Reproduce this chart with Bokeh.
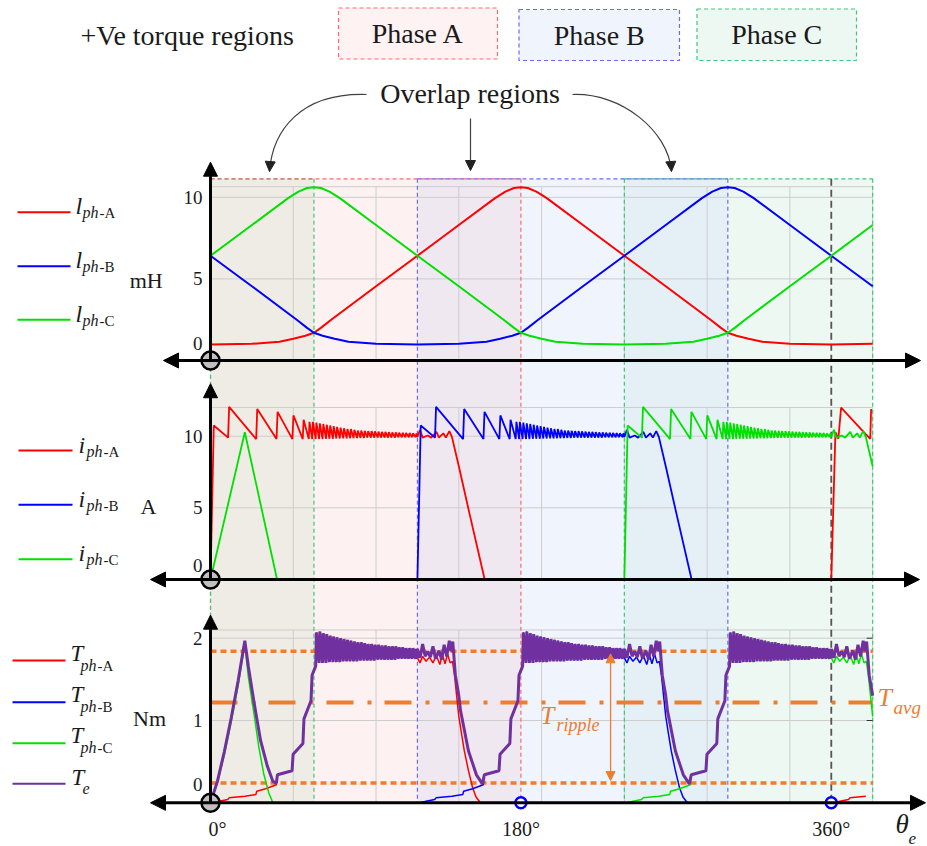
import numpy as np
from bokeh.plotting import figure
from bokeh.models import Range1d, Arrow, NormalHead
from bokeh.core.properties import value
from bokeh.embed import file_html
from bokeh.resources import INLINE

# =========================== DATA ===========================
theta_start = 0.0
theta_end = 384.0
theta_ticks = [0, 180, 360]
theta_tick_labels = ["0°", "180°", "360°"]
theta_grid = [48, 96, 144, 192, 240, 288, 336, 384]
marker_theta = [180, 360]

l_ticks = [0, 5, 10]
l_tick_labels = ["0", "5", "10"]
i_ticks = [0, 5, 10]
i_tick_labels = ["0", "5", "10"]
t_ticks = [0, 1, 2]
t_tick_labels = ["0", "1", "2"]
l_top, i_top, t_top = 10.65, 12.0, 2.1

# shaded +Ve torque regions (deg)
shade_edges = [0, 60, 120, 180, 240, 300, 360, 384]
shade_colors = ["#efece6", "#fdf1f1", "#efe8f0", "#f0f4fc", "#e5f0f6", "#eef8f2", "#eef8f2"]
region_A = [(0, 180)]
region_B = [(120, 300)]
region_C = [(0, 60), (240, 384)]
period_theta = 360

# phase inductance, phase A, one electrical period (deg, mH)
l_prof_deg = [0, 24, 40, 48, 55, 60, 64, 70, 96, 120, 144, 165, 171, 176, 180,
              184, 189, 195, 216, 240, 264, 290, 296, 300, 305, 312, 320, 336, 360]
l_prof_mh = [0.98, 1.02, 1.15, 1.33, 1.52, 1.70, 2.0, 2.5, 4.55, 6.42, 8.3, 9.95, 10.35, 10.57, 10.62,
             10.57, 10.35, 9.95, 8.3, 6.42, 4.55, 2.5, 2.0, 1.70, 1.52, 1.33, 1.15, 1.02, 0.98]
phase_shift = {"A": 0, "B": 120, "C": -120}

# phase current during one conduction interval (deg from turn-on, A)
i_head_deg = [0, 1.9, 10.2, 10.8, 26.5, 27.1, 38.3, 38.9, 47.5, 48.1, 53.5, 54.0]
i_head_amp = [0, 10.75, 9.9, 12.05, 9.8, 11.9, 9.8, 11.7, 9.8, 11.45, 9.8, 11.15]
rip_valley_deg = [57, 59, 61, 63, 65, 67, 69, 71, 73, 75, 77, 79, 81, 83, 85, 87,
                  89, 91, 93, 95, 97, 99, 101, 103, 105, 107, 109, 111, 113, 115, 117, 119]
rip_peak_deg = [57.4, 59.4, 61.4, 63.4, 65.4, 67.4, 69.4, 71.4, 73.4, 75.4, 77.4, 79.4, 81.4, 83.4, 85.4, 87.4,
                89.4, 91.4, 93.4, 95.4, 97.4, 99.4, 101.4, 103.4, 105.4, 107.4, 109.4, 111.4, 113.4, 115.4, 117.4, 119.4]
i_valley_amp = [9.8, 9.8, 9.8, 9.8, 9.8, 9.82, 9.82, 9.82, 9.84, 9.84, 9.85, 9.85, 9.86, 9.86, 9.87, 9.88,
                9.88, 9.89, 9.9, 9.9, 9.9, 9.9, 9.9, 9.9, 9.9, 9.9, 9.92, 9.92, 9.92, 9.92, 9.93, 9.93]
i_peak_amp = [11.0, 11.0, 10.95, 10.9, 10.85, 10.8, 10.75, 10.7, 10.65, 10.6, 10.55, 10.5, 10.5, 10.45, 10.4, 10.4,
              10.38, 10.36, 10.35, 10.33, 10.32, 10.3, 10.3, 10.28, 10.27, 10.26, 10.25, 10.24, 10.23, 10.22, 10.2, 10.2]
i_tail_deg = [120.0, 121.5, 123.0, 126.0, 128.0, 131.0, 132.5, 135.0, 136.5, 138.5, 140.0, 144.0, 150.0, 159.0]
i_tail_amp = [9.95, 10.45, 9.9, 10.05, 9.9, 10.3, 9.9, 10.2, 9.9, 10.35, 9.95, 7.9, 4.7, 0.0]
# start-up pieces
ic_start_deg = [0, 19.9, 38.6]
ic_start_amp = [0, 10.28, 0]
ia_next_deg = [360, 362.4, 364.1, 365.7, 379.8, 382.6, 383.1]
ia_next_amp = [0, 10.28, 9.82, 12.0, 10.17, 9.82, 11.9]

# phase torque during one conduction interval (deg from turn-on, Nm)
tau_head_deg = [0, 2, 5, 10, 10.8, 20, 26.3, 26.8, 32, 38.2, 38.8, 47.3, 47.9, 53.6, 54.2, 58.3, 58.9, 60.6]
tau_head_nm = [0, 0, 0.02, 0.04, 0.06, 0.08, 0.1, 0.14, 0.17, 0.22, 0.34, 0.39, 0.59, 0.72, 1.02, 1.24, 1.55, 1.64]
tau_valley_nm = [1.66, 1.70, 1.70, 1.70, 1.71, 1.71, 1.71, 1.71, 1.72, 1.72, 1.72, 1.72, 1.72, 1.73, 1.73,
                 1.73, 1.73, 1.73, 1.74, 1.74, 1.74, 1.74, 1.74, 1.74, 1.75, 1.75, 1.75, 1.75, 1.75, 1.75]
tau_peak_nm = [2.07, 2.08, 2.06, 2.05, 2.03, 2.02, 2.01, 2.0, 1.99, 1.98, 1.97, 1.96, 1.95, 1.95, 1.94,
               1.93, 1.93, 1.92, 1.92, 1.91, 1.91, 1.9, 1.9, 1.9, 1.89, 1.89, 1.88, 1.88, 1.88, 1.87]
tau_tail_deg = [120.0, 121.5, 123.0, 125.0, 127.0, 129.0, 131.0, 133.0, 134.5, 136.0, 137.5, 139.0, 140.3,
                141.5, 143.0, 144.0, 145.5, 147.2, 149.5, 151.9, 154.0, 156.5]
tau_tail_nm = [1.76, 1.70, 1.78, 1.72, 1.77, 1.70, 1.79, 1.68, 1.80, 1.69, 1.81, 1.70, 1.72,
               1.55, 1.25, 1.05, 0.85, 0.63, 0.40, 0.19, 0.07, 0.0]
# total torque while the outgoing phase decays (deg from incoming turn-on, Nm)
te_ov_deg = [0, 1.5, 3, 4.5, 6, 7.5, 9, 10.5, 12.5, 14, 15.5, 17, 18.5, 19.5, 20.5, 22, 24, 25, 29.6, 34.2, 37.7]
te_ov_nm = [1.87, 1.76, 1.93, 1.78, 1.84, 1.77, 1.9, 1.75, 1.85, 1.74, 1.92, 1.78, 1.97, 1.84, 1.96,
            1.55, 1.3, 1.12, 0.63, 0.34, 0.23]
te_join_deg = 38.8
# start-up torque
te_start_deg = [0, 4, 8, 12, 16, 19.9, 22, 25.1, 29, 32.9, 36.2, 38.2]
te_start_nm = [0, 0.26, 0.62, 1.03, 1.48, 1.97, 1.65, 1.24, 0.76, 0.45, 0.26, 0.24]
tc_start_deg = [0, 4, 8, 12, 16, 19.9, 22, 25.1, 28, 30.9, 33.8, 36.2]
tc_start_nm = [0, 0.24, 0.58, 0.98, 1.42, 1.93, 1.52, 1.1, 0.68, 0.35, 0.12, 0]
phase_on = {"A": 0, "B": 120, "C": 240}

ripple_max = 1.84
ripple_min = 0.24
t_avg = 1.22
ripple_arrow_theta = 232

# =========================== STYLE / LAYOUT ===========================
W, H = 927, 846
X0, PPD = 210.0, 1.7244           # pixel of 0 deg, pixels per degree
PANEL = {"L": (360.0, 16.32), "I": (579.0, 14.33), "T": (802.3, 82.3)}
REGION_TOP_PX = 178.3
SERIF = value("Liberation Serif")
RED, BLUE, GREEN, PURPLE, ORANGE = "#ff0000", "#0000ff", "#00e000", "#7030a0", "#ed7d31"
REG_A, REG_B, REG_C = "#ff6a6a", "#6a6aff", "#3cc878"
GRID = "#cdcdcd"


def dx(px):
    return (px - X0) / PPD


p = figure(width=W, height=H, x_range=Range1d(dx(0), dx(W)), y_range=Range1d(H, 0),
           x_axis_type=None, y_axis_type=None, toolbar_location=None, output_backend="svg",
           min_border=0, outline_line_color=None, background_fill_color="white",
           border_fill_color="white")
p.title.visible = False
p.extra_y_ranges = {k: Range1d((y0 - H) / ppu, y0 / ppu) for k, (y0, ppu) in PANEL.items()}

T0_PX = PANEL["T"][0]

# ---- shaded regions
p.quad(left=shade_edges[:-1], right=shade_edges[1:], top=REGION_TOP_PX, bottom=T0_PX,
       fill_color=shade_colors, line_color=None)

# ---- grid lines per panel
for name, top, ticks in (("L", l_top, l_ticks), ("I", i_top, i_ticks), ("T", t_top, t_ticks)):
    p.segment(x0=theta_grid, y0=0, x1=theta_grid, y1=top, y_range_name=name,
              line_color=GRID, line_width=1)
    hy = list(ticks[1:]) + [top]
    p.segment(x0=theta_start, y0=hy, x1=theta_end, y1=hy, y_range_name=name,
              line_color=GRID, line_width=1)

# ---- region dashed borders
def region_sides(regs, color):
    for a, b in regs:
        p.segment(x0=[a, b], y0=REGION_TOP_PX, x1=[a, b], y1=T0_PX, line_color=color,
                  line_width=1.2, line_dash="4 3")


def region_tops(regs, color):
    for a, b in regs:
        p.segment(x0=a, y0=REGION_TOP_PX, x1=b, y1=REGION_TOP_PX, line_color=color,
                  line_width=1.2, line_dash="4 3")


region_sides(region_A, REG_A)
region_sides(region_C, REG_C)
region_sides(region_B, REG_B)
region_tops(region_C[:1], REG_C)
region_tops(region_A, REG_A)
region_tops(region_C[1:], REG_C)
region_tops(region_B, REG_B)
p.segment(x0=period_theta, y0=REGION_TOP_PX, x1=period_theta, y1=T0_PX,
          line_color="#555555", line_width=1.8, line_dash="7 4")

# ---- torque bands
p.line([theta_start, theta_end], [ripple_max, ripple_max], y_range_name="T",
       line_color=ORANGE, line_width=3.5, line_dash="6 4")
p.line([theta_start, theta_end], [ripple_min, ripple_min], y_range_name="T",
       line_color=ORANGE, line_width=3.5, line_dash="6 4")
p.line([theta_start, theta_end], [t_avg, t_avg], y_range_name="T",
       line_color=ORANGE, line_width=4, line_dash="27 14 4 13")

# =========================== SERIES ===========================
def shifted(deg, val, off, lo=-1e9, hi=theta_end):
    a = np.asarray(deg, float) + off
    v = np.asarray(val, float)
    m = (a >= lo) & (a <= hi)
    return a[m], v[m]


def join(*parts):
    return (np.concatenate([q[0] for q in parts]), np.concatenate([q[1] for q in parts]))


def periodic(deg, val, shift):
    a = np.concatenate([np.asarray(deg, float) + shift + 360 * k for k in (-1, 0, 1, 2)])
    v = np.concatenate([np.asarray(val, float)] * 4)
    m = (a >= theta_start) & (a <= theta_end)
    a, idx = np.unique(a[m], return_index=True)
    return a, v[m][idx]


zero_start = (np.array([theta_start]), np.array([0.0]))
zero_end = (np.array([theta_end]), np.array([0.0]))

# inductance
for ph, col in (("A", RED), ("B", BLUE), ("C", GREEN)):
    x, y = periodic(l_prof_deg, l_prof_mh, phase_shift[ph])
    p.line(x, y, y_range_name="L", line_color=col, line_width=2)

# current
rip_deg = np.column_stack([rip_valley_deg, rip_peak_deg]).ravel()
i_prof = (np.concatenate([i_head_deg, rip_deg, i_tail_deg]),
          np.concatenate([i_head_amp, np.column_stack([i_valley_amp, i_peak_amp]).ravel(), i_tail_amp]))
ia = join(shifted(*i_prof, phase_on["A"]), (np.asarray(ia_next_deg, float), np.asarray(ia_next_amp, float)))
ib = join(zero_start, shifted(*i_prof, phase_on["B"]), zero_end)
ic = join((np.asarray(ic_start_deg, float), np.asarray(ic_start_amp, float)), shifted(*i_prof, phase_on["C"]))
for (x, y), col in ((ia, RED), (ib, BLUE), (ic, GREEN)):
    p.line(x, y, y_range_name="I", line_color=col, line_width=1.8)

# torque
t_rip_deg = np.column_stack([rip_valley_deg[2:], rip_peak_deg[2:]]).ravel()
tau = (np.concatenate([tau_head_deg, t_rip_deg, tau_tail_deg]),
       np.concatenate([tau_head_nm, np.column_stack([tau_valley_nm, tau_peak_nm]).ravel(), tau_tail_nm]))
ta = join(shifted(*tau, phase_on["A"]), shifted(*tau, period_theta))
tb = join(zero_start, shifted(*tau, phase_on["B"]), zero_end)
tc = join((np.asarray(tc_start_deg, float), np.asarray(tc_start_nm, float)), shifted(*tau, phase_on["C"]))
m_cond = (tau[0] >= te_join_deg) & (tau[0] <= 120)
tau_cond = (tau[0][m_cond], tau[1][m_cond])
te = join((np.asarray(te_start_deg, float), np.asarray(te_start_nm, float)),
          shifted(*tau_cond, phase_on["A"]),
          shifted(te_ov_deg, te_ov_nm, phase_on["B"]), shifted(*tau_cond, phase_on["B"]),
          shifted(te_ov_deg, te_ov_nm, phase_on["C"]), shifted(*tau_cond, phase_on["C"]),
          shifted(te_ov_deg, te_ov_nm, period_theta))
for (x, y), col in ((ta, RED), (tb, BLUE), (tc, GREEN)):
    p.line(x, y, y_range_name="T", line_color=col, line_width=1.5)
p.line(te[0], te[1], y_range_name="T", line_color=PURPLE, line_width=3)

# right frame ticks of torque panel
p.segment(x0=theta_end, y0=t_ticks[1:], x1=theta_end - 6 / PPD, y1=t_ticks[1:], y_range_name="T",
          line_color="#333333", line_width=1)

# ripple arrow
p.add_layout(Arrow(start=NormalHead(size=9, fill_color=ORANGE, line_color=ORANGE),
                   end=NormalHead(size=9, fill_color=ORANGE, line_color=ORANGE),
                   x_start=ripple_arrow_theta, y_start=ripple_max - 0.03,
                   x_end=ripple_arrow_theta, y_end=ripple_min + 0.03,
                   line_color=ORANGE, line_width=1.3, y_range_name="T"))

# =========================== AXES ===========================
axes_cfg = {
    "L": dict(left=dx(163), right=dx(920), top=12.15, ticks=l_ticks, labels=l_tick_labels, lift=16.7),
    "I": dict(left=dx(150), right=dx(919), top=13.66, ticks=i_ticks, labels=i_tick_labels, lift=14.0),
    "T": dict(left=dx(150), right=dx(925), top=2.28, ticks=t_ticks, labels=t_tick_labels, lift=18.0),
}
for name, c in axes_cfg.items():
    ppu = PANEL[name][1]
    p.add_layout(Arrow(start=NormalHead(size=15, fill_color="black", line_color="black"),
                       end=NormalHead(size=15, fill_color="black", line_color="black"),
                       x_start=c["left"], y_start=0, x_end=c["right"], y_end=0,
                       line_color="black", line_width=3, y_range_name=name))
    p.add_layout(Arrow(end=NormalHead(size=14, fill_color="black", line_color="black"),
                       x_start=0, y_start=0, x_end=0, y_end=c["top"],
                       line_color="black", line_width=3, y_range_name=name))
    ty = [t + (c["lift"] / ppu if t == 0 else 0) for t in c["ticks"]]
    p.text(x=[dx(202)] * len(ty), y=ty, text=c["labels"], y_range_name=name,
           text_font=SERIF, text_font_size="19px", text_align="right", text_baseline="middle",
           text_color="#1a1a1a")
    p.scatter([0], [0], y_range_name=name, size=18, fill_color="#c0c0c0", line_color="black",
              line_width=2.5)

# x tick labels + markers on torque axis
xl = [t + (7 / PPD if t == 0 else 0) for t in theta_ticks]
p.text(x=xl, y=[-26 / PANEL["T"][1]] * len(xl), text=theta_tick_labels, y_range_name="T",
       text_font=SERIF, text_font_size="20px", text_align="center", text_baseline="middle",
       text_color="#1a1a1a")
p.scatter(marker_theta, [0] * len(marker_theta), y_range_name="T", size=11, fill_color="white",
          line_color=BLUE, line_width=2.5)
p.text(x=[dx(895)], y=[838], text=["θ"], text_font=SERIF, text_font_size="27px",
       text_font_style="italic", text_color="#1a1a1a")
p.text(x=[dx(908)], y=[843], text=["e"], text_font=SERIF, text_font_size="17px",
       text_font_style="italic", text_color="#1a1a1a")

# unit labels
p.text(x=[dx(145.7), dx(148), dx(149)], y=[279.5, 506, 718], text=["mH", "A", "Nm"],
       text_font=SERIF, text_font_size="22px", text_align="center", text_baseline="middle",
       text_color="#1a1a1a")

# =========================== LEGENDS ===========================
def legend_block(ys, x0, x1, colors, mains, subs, suffixes, mx, sx, fx, m_dy, s_dy, m_size, widths):
    for y, col, m, s, f, w in zip(ys, colors, mains, subs, suffixes, widths):
        p.segment(x0=dx(x0), y0=y, x1=dx(x1), y1=y, line_color=col, line_width=w)
        p.text(x=[dx(mx)], y=[y + m_dy], text=[m], text_font=SERIF, text_font_size=m_size,
               text_font_style="italic", text_color="#1a1a1a")
        p.text(x=[dx(sx)], y=[y + s_dy], text=[s], text_font=SERIF, text_font_size="16px",
               text_font_style="italic", text_color="#1a1a1a")
        if f:
            p.text(x=[dx(fx)], y=[y + s_dy], text=[f], text_font=SERIF, text_font_size="15px",
                   text_color="#1a1a1a")

legend_block([211.7, 265.7, 319.3], 17, 70, [RED, BLUE, GREEN], ["l"] * 3, ["ph"] * 3,
             ["-A", "-B", "-C"], 75, 82, 99, 7, 9, "24px", [2, 2, 2])
legend_block([450, 504.3, 558.7], 18, 72, [RED, BLUE, GREEN], ["i"] * 3, ["ph"] * 3,
             ["-A", "-B", "-C"], 78, 86, 103, 7, 9, "24px", [2, 2, 2])
legend_block([660, 701.7, 742.7], 12, 65, [RED, BLUE, GREEN], ["T"] * 3, ["ph"] * 3,
             ["-A", "-B", "-C"], 70, 80, 97, 5, 13, "23px", [2, 2, 2])
legend_block([783.3], 12, 65, [PURPLE], ["T"], ["e"], [""], 71, 82, 0, 6, 10, "23px", [2])

# =========================== HEADER ===========================
p.text(x=[dx(80)], y=[35], text=["+Ve torque regions"], text_font=SERIF, text_font_size="28px",
       text_baseline="middle", text_color="#1a1a1a")
boxes = [(338, 497, 7.5, 58.5, "#fff2f2", REG_A, "Phase A"),
         (518.5, 679, 9, 60, "#f0f4fd", REG_B, "Phase B"),
         (696.5, 856, 8.5, 60, "#eef8f2", REG_C, "Phase C")]
for l, r, t, b, fc, lc, lab in boxes:
    p.quad(left=dx(l), right=dx(r), top=t, bottom=b, fill_color=fc, line_color=lc,
           line_width=1.2, line_dash="4 3")
    p.text(x=[dx((l + r) / 2)], y=[(t + b) / 2], text=[lab], text_font=SERIF, text_font_size="28px",
           text_align="center", text_baseline="middle", text_color="#1a1a1a")

p.text(x=[dx(469.5)], y=[93], text=["Overlap regions"], text_font=SERIF, text_font_size="28px",
       text_align="center", text_baseline="middle", text_color="#1a1a1a")
ARC = "#404040"
p.bezier(x0=dx(366), y0=94, x1=dx(269), y1=171, cx0=dx(300), cy0=92, cx1=dx(272), cy1=130,
         line_color=ARC, line_width=1.2)
p.bezier(x0=dx(572), y0=94, x1=dx(671), y1=171, cx0=dx(620), cy0=92, cx1=dx(668), cy1=130,
         line_color=ARC, line_width=1.2)
for sx_, sy_, ex_, ey_ in ((272, 130, 269, 171), (668, 130, 671, 171)):
    p.add_layout(Arrow(end=NormalHead(size=10, fill_color="#222222", line_color="#222222"),
                       x_start=dx(sx_), y_start=sy_, x_end=dx(ex_), y_end=ey_, line_alpha=0))
p.add_layout(Arrow(end=NormalHead(size=10, fill_color="#222222", line_color="#222222"),
                   x_start=dx(470), y_start=118, x_end=dx(470), y_end=170,
                   line_color=ARC, line_width=1.2))

# torque annotations
p.text(x=[dx(540)], y=[728], text=["T"], text_font=SERIF, text_font_size="25px",
       text_font_style="italic", text_color=ORANGE)
p.text(x=[dx(556)], y=[734], text=["ripple"], text_font=SERIF, text_font_size="18px",
       text_font_style="italic", text_color=ORANGE)
p.text(x=[dx(877)], y=[711], text=["T"], text_font=SERIF, text_font_size="26px",
       text_font_style="italic", text_color=ORANGE)
p.text(x=[dx(893)], y=[717], text=["avg"], text_font=SERIF, text_font_size="19px",
       text_font_style="italic", text_color=ORANGE)

open("out.html", "w").write(file_html(p, INLINE))
